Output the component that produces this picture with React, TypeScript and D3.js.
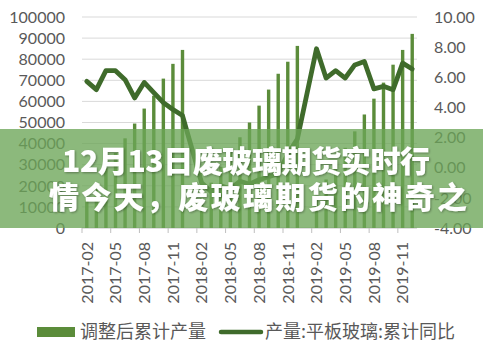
import React, { FC, useEffect, useRef } from "react"
import { line, scaleBand, scaleLinear, select } from "d3"

const months = [
  "2017-02", "2017-03", "2017-04", "2017-05", "2017-06", "2017-07", "2017-08", "2017-09", "2017-10", "2017-11", "2017-12",
  "2018-01", "2018-02", "2018-03", "2018-04", "2018-05", "2018-06", "2018-07", "2018-08", "2018-09", "2018-10", "2018-11", "2018-12",
  "2019-01", "2019-02", "2019-03", "2019-04", "2019-05", "2019-06", "2019-07", "2019-08", "2019-09", "2019-10", "2019-11", "2019-12",
]

// 调整后累计产量 (left axis)
const output: (number | null)[] = [
  13500, 21000, 28500, 35500, 42500, 49500, 56600, 62700, 70800, 77800, 84400,
  null, 14000, 21500, 29000, 36000, 43000, 50000, 58000, 65600, 73100, 78800, 86300,
  null, 15000, 23000, 30500, 38000, 45800, 53800, 61300, 68900, 77400, 84400, 92000,
]

// 产量:平板玻璃:累计同比 (right axis)
const yoy: (number | null)[] = [
  5.73, 5.18, 6.44, 6.44, 5.84, 4.63, 5.66, 4.98, 4.32, 3.86, 3.46,
  null, -1.0, -1.6, -1.2, -1.4, -0.9, -1.1, -0.8, -0.6, -0.4, 0.9, 1.9,
  null, 7.89, 5.95, 6.44, 5.95, 6.82, 7.05, 5.23, 5.4, 5.18, 6.94, 6.55,
]

const leftTicks = [0, 10000, 20000, 30000, 40000, 50000, 60000, 70000, 80000, 90000, 100000]
const rightTicks = [-4, -2, 0, 2, 4, 6, 8, 10]
const xLabels = ["2017-02", "2017-05", "2017-08", "2017-11", "2018-02", "2018-05", "2018-08", "2018-11", "2019-02", "2019-05", "2019-08", "2019-11"]

const legendBar = "调整后累计产量"
const legendLine = "产量:平板玻璃:累计同比"
const bannerLines = ["12月13日废玻璃期货实时行", "情今天，废玻璃期货的神奇之"]

const App: FC = () => {
  const svgRef = useRef<SVGSVGElement>(null)

  useEffect(() => {
    const width = 483
    const height = 354
    const plot = { left: 82, right: 417, top: 17, bottom: 228 }
    const textColor = "#595959"
    const axisFont = "Lato, 'Liberation Sans', sans-serif"
    const cjkFont = "'Noto Sans CJK SC', sans-serif"

    const svg = select(svgRef.current)
    svg.selectAll("*").remove()
    svg.attr("width", width).attr("height", height)

    // scales
    const x = scaleBand<string>().domain(months).range([plot.left, plot.right])
    const yLeft = scaleLinear().domain([0, 100000]).range([plot.bottom, plot.top])
    const yRight = scaleLinear().domain([-4, 10]).range([plot.bottom, plot.top])
    const cx = (m: string) => (x(m) ?? 0) + x.bandwidth() / 2

    // shadow for banner text
    const defs = svg.append("defs")
    defs
      .append("filter")
      .attr("id", "shadow")
      .append("feDropShadow")
      .attr("dx", 1)
      .attr("dy", 1)
      .attr("stdDeviation", 1.2)
      .attr("flood-color", "#000")
      .attr("flood-opacity", 0.35)

    // gridlines
    svg
      .append("g")
      .selectAll("line")
      .data(leftTicks.slice(1))
      .join("line")
      .attr("x1", plot.left)
      .attr("x2", plot.right)
      .attr("y1", (d) => yLeft(d))
      .attr("y2", (d) => yLeft(d))
      .attr("stroke", "#d9d9d9")
      .attr("stroke-width", 1)

    // x axis line + ticks
    const axis = svg.append("g")
    axis
      .append("line")
      .attr("x1", plot.left)
      .attr("x2", plot.right)
      .attr("y1", yLeft(0))
      .attr("y2", yLeft(0))
      .attr("stroke", "#bfbfbf")
    axis
      .selectAll("line.tick")
      .data(months.filter((_, i) => i % 3 === 0))
      .join("line")
      .attr("class", "tick")
      .attr("x1", (d) => x(d) ?? 0)
      .attr("x2", (d) => x(d) ?? 0)
      .attr("y1", yLeft(0))
      .attr("y2", yLeft(0) + 5)
      .attr("stroke", "#bfbfbf")

    // bars
    const barW = 3.4
    svg
      .append("g")
      .selectAll("rect")
      .data(months.map((m, i) => ({ m, v: output[i] })).filter((d) => d.v !== null))
      .join("rect")
      .attr("x", (d) => cx(d.m) - barW / 2)
      .attr("width", barW)
      .attr("y", (d) => yLeft(d.v as number))
      .attr("height", (d) => yLeft(0) - yLeft(d.v as number))
      .attr("fill", "#5b8c3a")

    // yoy line (january gaps bridged)
    const pts = months.map((m, i) => ({ m, v: yoy[i] })).filter((d) => d.v !== null)
    const lineGen = line<{ m: string; v: number | null }>()
      .x((d) => cx(d.m))
      .y((d) => yRight(d.v as number))
    svg
      .append("path")
      .attr("d", lineGen(pts))
      .attr("fill", "none")
      .attr("stroke", "#3f6b2b")
      .attr("stroke-width", 4.8)
      .attr("stroke-linejoin", "round")
      .attr("stroke-linecap", "round")

    // left axis labels
    svg
      .append("g")
      .selectAll("text")
      .data(leftTicks)
      .join("text")
      .attr("x", 65)
      .attr("y", (d) => yLeft(d))
      .attr("dy", "0.36em")
      .attr("text-anchor", "end")
      .attr("font-family", axisFont)
      .attr("font-size", 16)
      .attr("fill", textColor)
      .text((d) => String(d))

    // right axis labels
    svg
      .append("g")
      .selectAll("text")
      .data(rightTicks)
      .join("text")
      .attr("x", 434)
      .attr("y", (d) => yRight(d))
      .attr("dy", "0.36em")
      .attr("text-anchor", "start")
      .attr("font-family", axisFont)
      .attr("font-size", 16)
      .attr("fill", textColor)
      .text((d) => d.toFixed(2))

    // x labels
    svg
      .append("g")
      .selectAll("text")
      .data(xLabels)
      .join("text")
      .attr("transform", (d) => `translate(${cx(d)},242) rotate(-90)`)
      .attr("dy", "0.36em")
      .attr("text-anchor", "end")
      .attr("font-family", axisFont)
      .attr("font-size", 16)
      .attr("fill", textColor)
      .text((d) => d)

    // legend
    const legend = svg.append("g")
    legend.append("rect").attr("x", 37).attr("y", 327).attr("width", 38).attr("height", 10).attr("fill", "#5b8c3a")
    legend
      .append("text")
      .attr("x", 80)
      .attr("y", 338)
      .attr("font-family", cjkFont)
      .attr("font-size", 18)
      .attr("fill", textColor)
      .text(legendBar)
    legend
      .append("line")
      .attr("x1", 221)
      .attr("x2", 261)
      .attr("y1", 332)
      .attr("y2", 332)
      .attr("stroke", "#3f6b2b")
      .attr("stroke-width", 4.5)
      .attr("stroke-linecap", "round")
    legend
      .append("text")
      .attr("x", 265)
      .attr("y", 338)
      .attr("font-family", cjkFont)
      .attr("font-size", 18)
      .attr("fill", textColor)
      .text(legendLine)

    // banner overlay
    svg
      .append("rect")
      .attr("x", 0)
      .attr("y", 129)
      .attr("width", width)
      .attr("height", 99)
      .attr("fill", "#6ba557")
      .attr("fill-opacity", 0.78)

    const rows = [
      { t: bannerLines[0], x: 62, y: 172, len: 368 },
      { t: bannerLines[1], x: 49, y: 208, len: 418 },
    ]
    svg
      .append("g")
      .selectAll("text")
      .data(rows)
      .join("text")
      .attr("x", (d) => d.x)
      .attr("y", (d) => d.y)
      .attr("textLength", (d) => d.len)
      .attr("lengthAdjust", "spacing")
      .attr("font-family", cjkFont)
      .attr("font-weight", 900)
      .attr("font-size", 30)
      .attr("fill", "#fff")
      .attr("filter", "url(#shadow)")
      .text((d) => d.t)
  }, [])

  return <svg ref={svgRef} style={{ position: "absolute", left: 0, top: 0 }} />
}

export default App
